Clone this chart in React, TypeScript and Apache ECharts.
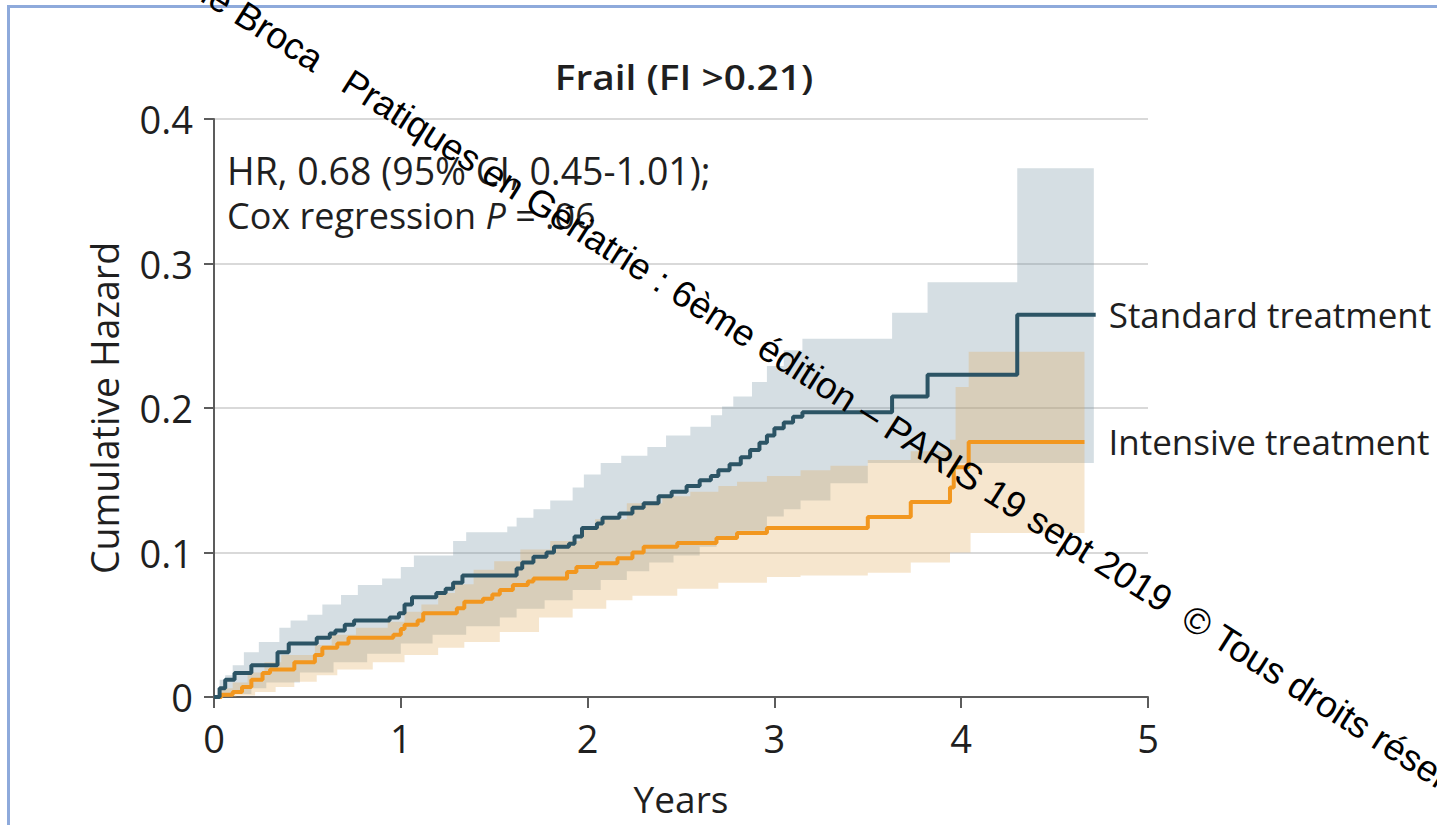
import React, { useEffect, useRef } from "react";
import * as echarts from "echarts";

// ---------- data ----------
const xTickValues = [0, 1, 2, 3, 4, 5];
const yTickValues = [0, 0.1, 0.2, 0.3, 0.4];
const seriesNames = ["Standard treatment", "Intensive treatment"];
const chartTitle = "Frail (FI >0.21)";
const xAxisName = "Years";
const yAxisName = "Cumulative Hazard";
const annotationLine1 = "HR, 0.68 (95% CI, 0.45-1.01);";
const annotationLine2 = "Cox regression {i|P} = .06";
const watermarkText =
  "de Broca   Pratiques en Gériatrie : 6ème édition – PARIS 19 sept 2019  © Tous droits réservés";

// Standard treatment cumulative hazard (step function: value holds from time onward)
const standardTimes = [0, 0.03, 0.06, 0.11, 0.2, 0.34, 0.4, 0.55, 0.62, 0.65, 0.7, 0.75, 0.94, 0.99, 1.02, 1.06, 1.19, 1.24, 1.28, 1.33, 1.62, 1.65, 1.71, 1.78, 1.82, 1.9, 1.93, 1.97, 2.05, 2.08, 2.17, 2.24, 2.3, 2.38, 2.45, 2.53, 2.6, 2.66, 2.7, 2.76, 2.82, 2.87, 2.92, 2.96, 3.0, 3.05, 3.1, 3.15, 3.63, 3.82, 4.3, 4.72];
const standardValues = [0, 0.006, 0.012, 0.0166, 0.022, 0.031, 0.037, 0.041, 0.044, 0.046, 0.05, 0.053, 0.055, 0.058, 0.064, 0.069, 0.072, 0.075, 0.079, 0.084, 0.089, 0.093, 0.097, 0.1, 0.104, 0.106, 0.111, 0.117, 0.12, 0.124, 0.127, 0.131, 0.134, 0.139, 0.142, 0.146, 0.15, 0.153, 0.157, 0.161, 0.166, 0.171, 0.176, 0.181, 0.186, 0.19, 0.194, 0.197, 0.208, 0.223, 0.2645, 0.2645];

// Intensive treatment cumulative hazard
const intensiveTimes = [0, 0.04, 0.1, 0.15, 0.2, 0.26, 0.3, 0.43, 0.54, 0.58, 0.66, 0.72, 0.96, 1.0, 1.02, 1.09, 1.12, 1.3, 1.34, 1.44, 1.49, 1.53, 1.6, 1.68, 1.71, 1.89, 1.94, 2.05, 2.16, 2.24, 2.3, 2.48, 2.69, 2.8, 2.96, 3.5, 3.73, 3.94, 3.96, 4.04, 4.66];
const intensiveValues = [0, 0.0015, 0.0035, 0.007, 0.012, 0.0166, 0.019, 0.024, 0.029, 0.034, 0.037, 0.041, 0.043, 0.047, 0.05, 0.053, 0.058, 0.0615, 0.066, 0.068, 0.071, 0.074, 0.0775, 0.08, 0.082, 0.0865, 0.09, 0.0925, 0.096, 0.1, 0.104, 0.1065, 0.11, 0.1135, 0.117, 0.1245, 0.135, 0.145, 0.159, 0.1765, 0.1765];

// 95% CI bands
const standardUpperTimes = [0, 0.03, 0.06, 0.1, 0.16, 0.24, 0.35, 0.41, 0.5, 0.58, 0.68, 0.77, 0.9, 1.0, 1.07, 1.28, 1.35, 1.57, 1.62, 1.71, 1.8, 1.92, 1.98, 2.07, 2.18, 2.32, 2.42, 2.55, 2.66, 2.72, 2.78, 2.88, 2.96, 3.05, 3.15, 3.63, 3.82, 4.3, 4.71];
const standardUpperValues = [0, 0.012, 0.015, 0.022, 0.031, 0.038, 0.048, 0.053, 0.057, 0.064, 0.0706, 0.0775, 0.082, 0.09, 0.098, 0.108, 0.114, 0.118, 0.124, 0.13, 0.136, 0.145, 0.154, 0.162, 0.167, 0.173, 0.181, 0.187, 0.195, 0.201, 0.208, 0.218, 0.229, 0.24, 0.248, 0.266, 0.287, 0.366, 0.366];
const standardLowerTimes = [0, 0.08, 0.2, 0.28, 0.46, 0.64, 0.82, 1.0, 1.17, 1.35, 1.53, 1.62, 1.77, 1.92, 2.07, 2.21, 2.33, 2.46, 2.6, 2.69, 2.8, 2.96, 3.05, 3.14, 3.3, 3.5, 4.71];
const standardLowerValues = [0, 0.002, 0.006, 0.01, 0.017, 0.024, 0.03, 0.037, 0.043, 0.049, 0.055, 0.061, 0.067, 0.074, 0.081, 0.087, 0.093, 0.098, 0.104, 0.109, 0.115, 0.125, 0.13, 0.136, 0.148, 0.162, 0.162];
const intensiveUpperTimes = [0, 0.04, 0.1, 0.18, 0.27, 0.36, 0.54, 0.63, 0.76, 0.93, 1.02, 1.11, 1.2, 1.29, 1.39, 1.5, 1.64, 1.8, 1.96, 2.04, 2.21, 2.4, 2.55, 2.7, 2.8, 2.96, 3.14, 3.3, 3.5, 3.73, 3.94, 3.97, 4.04, 4.66];
const intensiveUpperValues = [0, 0.006, 0.01, 0.017, 0.024, 0.029, 0.036, 0.043, 0.048, 0.052, 0.059, 0.064, 0.072, 0.078, 0.088, 0.094, 0.102, 0.108, 0.1155, 0.123, 0.134, 0.139, 0.142, 0.146, 0.149, 0.153, 0.157, 0.16, 0.164, 0.17, 0.178, 0.2145, 0.239, 0.239];
const intensiveLowerTimes = [0, 0.12, 0.22, 0.33, 0.43, 0.55, 0.66, 0.85, 1.02, 1.2, 1.34, 1.53, 1.74, 1.92, 2.1, 2.24, 2.48, 2.7, 2.96, 3.14, 3.5, 3.73, 3.94, 4.05, 4.66];
const intensiveLowerValues = [0, 0.001, 0.0035, 0.007, 0.0105, 0.015, 0.019, 0.024, 0.029, 0.034, 0.038, 0.045, 0.055, 0.061, 0.067, 0.07, 0.075, 0.079, 0.083, 0.084, 0.086, 0.093, 0.1, 0.1135, 0.1135];

// ---------- styles ----------
const FONT = "Open Sans";
const TEXT_COLOR = "#1f1f1f";
const STANDARD_COLOR = "#2c5465";
const INTENSIVE_COLOR = "#f2971f";
const STANDARD_BAND = "rgba(115,145,162,0.30)";
const INTENSIVE_BAND = "rgba(223,168,87,0.29)";
const AXIS_COLOR = "#5c5c5c";

function stepPoints(api: any, times: number[], values: number[]) {
  const pts: number[][] = [];
  for (let i = 0; i < times.length; i++) {
    pts.push(api.coord([times[i], values[i]]));
    if (i < times.length - 1) pts.push(api.coord([times[i + 1], values[i]]));
  }
  return pts;
}

function bandSeries(
  name: string,
  upT: number[],
  upV: number[],
  loT: number[],
  loV: number[],
  fill: string
) {
  return {
    type: "custom",
    name,
    silent: true,
    data: [[upT[0], upV[0]]],
    encode: { x: 0, y: 1 },
    z: 1,
    renderItem: (_params: any, api: any) => {
      const up = stepPoints(api, upT, upV);
      const lo = stepPoints(api, loT, loV).reverse();
      return {
        type: "polygon",
        shape: { points: up.concat(lo) },
        style: { fill, stroke: null },
      };
    },
  };
}

function pairs(t: number[], v: number[]) {
  return t.map((x, i) => [x, v[i]]);
}

export default function App() {
  const ref = useRef<HTMLDivElement>(null);

  useEffect(() => {
    if (!ref.current) return;
    const chart = echarts.init(ref.current, undefined, { renderer: "svg" });
    const angle = (-32.5 * Math.PI) / 180;

    chart.setOption({
      animation: false,
      backgroundColor: "#ffffff",
      grid: { left: 214, right: 289, top: 119, bottom: 128, containLabel: false },
      xAxis: {
        type: "value",
        min: xTickValues[0],
        max: xTickValues[xTickValues.length - 1],
        interval: 1,
        name: xAxisName,
        nameLocation: "middle",
        nameGap: 83,
        nameTextStyle: { fontFamily: FONT, fontSize: 37, color: TEXT_COLOR },
        axisLine: { show: true, lineStyle: { color: AXIS_COLOR, width: 2 } },
        axisTick: { show: true, inside: false, length: 11, lineStyle: { color: AXIS_COLOR, width: 2 } },
        axisLabel: { fontFamily: FONT, fontSize: 38, color: TEXT_COLOR, margin: 22 },
        splitLine: { show: false },
      },
      yAxis: {
        type: "value",
        min: yTickValues[0],
        max: yTickValues[yTickValues.length - 1],
        interval: 0.1,
        name: yAxisName,
        nameLocation: "middle",
        nameGap: 91,
        nameRotate: 90,
        nameTextStyle: { fontFamily: FONT, fontSize: 37.5, color: TEXT_COLOR },
        axisLine: { show: true, lineStyle: { color: AXIS_COLOR, width: 2 } },
        axisTick: { show: true, inside: false, length: 10, lineStyle: { color: AXIS_COLOR, width: 2 } },
        axisLabel: {
          fontFamily: FONT,
          fontSize: 38,
          color: TEXT_COLOR,
          margin: 21,
          formatter: (v: number) => (v === 0 ? "0" : v.toFixed(1)),
        },
        splitLine: { show: true, lineStyle: { color: "#cdcdcd", width: 1.5 } },
      },
      series: [
        bandSeries("Standard CI", standardUpperTimes, standardUpperValues, standardLowerTimes, standardLowerValues, STANDARD_BAND),
        bandSeries("Intensive CI", intensiveUpperTimes, intensiveUpperValues, intensiveLowerTimes, intensiveLowerValues, INTENSIVE_BAND),
        {
          type: "line",
          name: seriesNames[1],
          step: "end",
          showSymbol: false,
          z: 3,
          data: pairs(intensiveTimes, intensiveValues),
          lineStyle: { color: INTENSIVE_COLOR, width: 4 },
          itemStyle: { color: INTENSIVE_COLOR },
          endLabel: {
            show: true,
            formatter: "{a}",
            distance: 24,
            fontFamily: FONT,
            fontSize: 35,
            color: TEXT_COLOR,
          },
        },
        {
          type: "line",
          name: seriesNames[0],
          step: "end",
          showSymbol: false,
          z: 4,
          data: pairs(standardTimes, standardValues),
          lineStyle: { color: STANDARD_COLOR, width: 4 },
          itemStyle: { color: STANDARD_COLOR },
          endLabel: {
            show: true,
            formatter: "{a}",
            distance: 13,
            fontFamily: FONT,
            fontSize: 35,
            color: TEXT_COLOR,
          },
        },
      ],
      graphic: [
        {
          type: "rect",
          z: 0,
          silent: true,
          shape: { x: 8.5, y: 6.5, width: 1600, height: 1000 },
          style: { fill: "none", stroke: "#8eaadb", lineWidth: 3 },
        },
        {
          type: "text",
          x: 684,
          y: 76,
          z: 10,
          scaleX: 1.11,
          style: {
            text: chartTitle,
            fontFamily: FONT,
            fontSize: 35,
            fontWeight: 600,
            fill: TEXT_COLOR,
            align: "center",
            verticalAlign: "middle",
          },
        },
        {
          type: "text",
          x: 227,
          y: 170,
          z: 10,
          style: {
            text: annotationLine1,
            fontFamily: FONT,
            fontSize: 37.5,
            fill: TEXT_COLOR,
            align: "left",
            verticalAlign: "middle",
          },
        },
        {
          type: "text",
          x: 227,
          y: 215,
          z: 10,
          style: {
            text: annotationLine2,
            fontFamily: FONT,
            fontSize: 36,
            fill: TEXT_COLOR,
            align: "left",
            verticalAlign: "middle",
            rich: {
              i: { fontFamily: FONT, fontSize: 36, fontStyle: "italic", fill: TEXT_COLOR },
            },
          },
        },
        {
          type: "text",
          x: 195,
          y: -17,
          z: 100,
          rotation: angle,
          style: {
            text: watermarkText,
            fontFamily: "Liberation Sans",
            fontSize: 37,
            fill: "#000000",
            align: "left",
            verticalAlign: "middle",
          },
        },
      ],
    });

    return () => chart.dispose();
  }, []);

  return (
    <div
      ref={ref}
      style={{ position: "fixed", left: 0, top: 0, width: 1437, height: 825, background: "#fff" }}
    />
  );
}
